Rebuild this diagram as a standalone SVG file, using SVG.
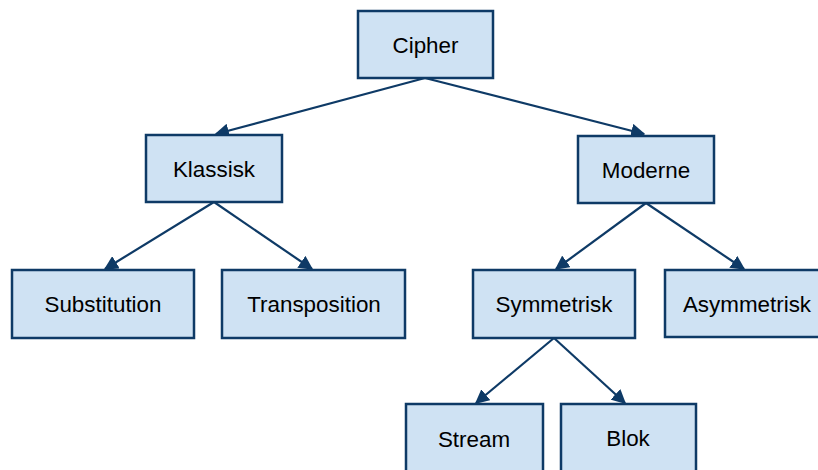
<svg xmlns="http://www.w3.org/2000/svg" width="818" height="470" viewBox="0 0 818 470">
  <style>
    .box { fill: #cfe2f3; stroke: #0e3a66; stroke-width: 2.5; }
    .lbl { font-family: "Liberation Sans", Arial, sans-serif; font-size: 22.4px; fill: #000; text-anchor: middle; dominant-baseline: central; }
    .edge { stroke: #0e3a66; stroke-width: 2.2; fill: none; marker-end: url(#arrow); }
  </style>
  <defs>
    <marker id="arrow" viewBox="0 0 10 10" refX="9" refY="5" markerWidth="6.5" markerHeight="6.5" markerUnits="strokeWidth" orient="auto">
      <path d="M0,0 L10,5 L0,10 z" fill="#0e3a66"/>
    </marker>
  </defs>
  <rect width="818" height="470" fill="#fff"/>

  <g id="connectors">
    <line class="edge" x1="425" y1="78" x2="216" y2="134"/>
    <line class="edge" x1="425" y1="78" x2="644" y2="134"/>
    <line class="edge" x1="214" y1="202" x2="105" y2="269"/>
    <line class="edge" x1="214" y1="202" x2="312" y2="269"/>
    <line class="edge" x1="646" y1="203" x2="556" y2="269"/>
    <line class="edge" x1="646" y1="203" x2="744" y2="269"/>
    <line class="edge" x1="554" y1="338" x2="476" y2="403"/>
    <line class="edge" x1="554" y1="338" x2="625" y2="403"/>
  </g>

  <g id="cipher">
    <rect class="box" x="358" y="11" width="135" height="67"/>
    <text class="lbl" x="425.5" y="45">Cipher</text>
  </g>
  <g id="klassisk">
    <rect class="box" x="146" y="135" width="136" height="67"/>
    <text class="lbl" x="214" y="169">Klassisk</text>
  </g>
  <g id="moderne">
    <rect class="box" x="578" y="136" width="136" height="67"/>
    <text class="lbl" x="646" y="170">Moderne</text>
  </g>
  <g id="substitution">
    <rect class="box" x="12" y="270" width="182" height="68"/>
    <text class="lbl" x="103" y="304">Substitution</text>
  </g>
  <g id="transposition">
    <rect class="box" x="222" y="270" width="183" height="68"/>
    <text class="lbl" x="314" y="304">Transposition</text>
  </g>
  <g id="symmetrisk">
    <rect class="box" x="473" y="270" width="162" height="68"/>
    <text class="lbl" x="554" y="304">Symmetrisk</text>
  </g>
  <g id="asymmetrisk">
    <rect class="box" x="665" y="270" width="158" height="67"/>
    <text class="lbl" x="747" y="304">Asymmetrisk</text>
  </g>
  <g id="stream">
    <rect class="box" x="406" y="404" width="137" height="70"/>
    <text class="lbl" x="474" y="439">Stream</text>
  </g>
  <g id="blok">
    <rect class="box" x="561" y="404" width="135" height="70"/>
    <text class="lbl" x="628" y="438">Blok</text>
  </g>
</svg>
